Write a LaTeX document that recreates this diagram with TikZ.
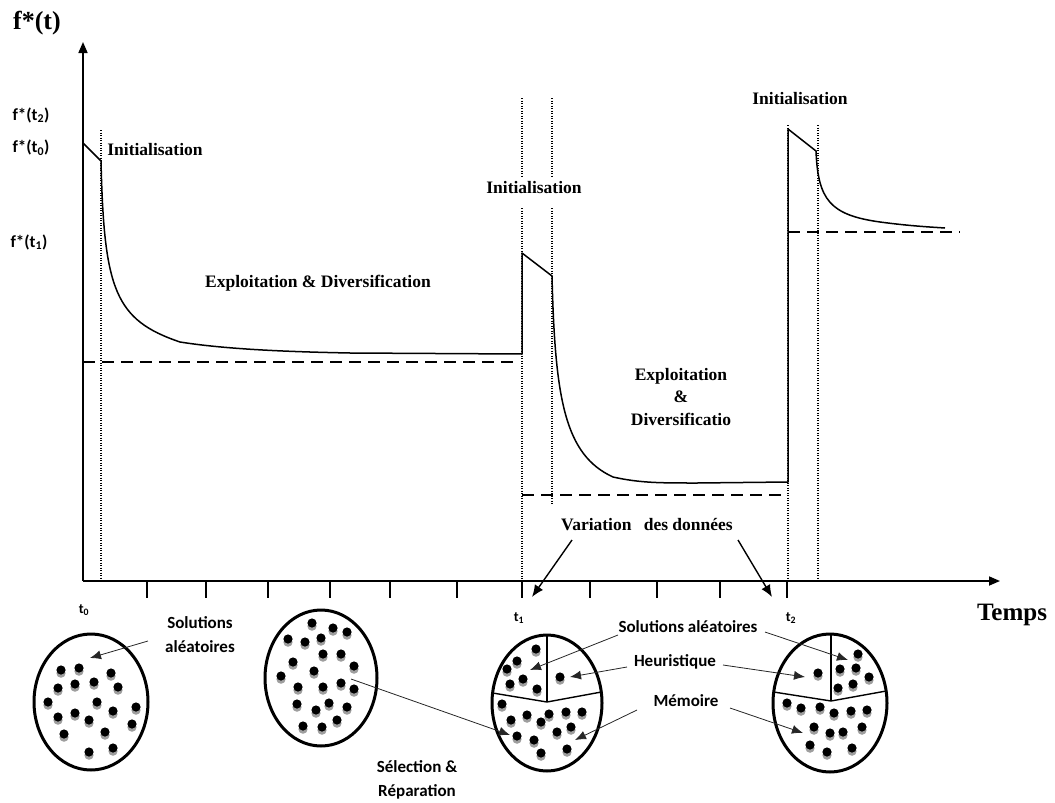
\documentclass[tikz,border=0pt]{standalone}
\usepackage{fontspec}
\setmainfont{Liberation Serif}
\newfontfamily\calib{Carlito}
\usetikzlibrary{arrows.meta}
\tikzset{
  pdot/.pic={\fill[black!38] (0,3.2) circle[radius=4.6pt]; \fill[black] (0,0) circle[radius=4.6pt];},
  serifl/.style={font=\fontsize{17.5}{21}\selectfont\bfseries, inner sep=0pt},
  bigserif/.style={font=\fontsize{26}{30}\selectfont\bfseries, inner sep=0pt},
  sansl/.style={font=\calib\fontsize{17}{24}\selectfont\bfseries, inner sep=0pt, align=center},
  smalll/.style={font=\calib\fontsize{17}{20}\selectfont\bfseries, inner sep=0pt},
  tlab/.style={font=\calib\fontsize{14}{16}\selectfont\bfseries, inner sep=0pt},
  curve/.style={line width=1.5pt, line join=round},
  dotl/.style={line width=1.1pt, dash pattern=on 0.9pt off 1.6pt},
  dashline/.style={line width=2pt, dash pattern=on 12pt off 7pt},
  axisl/.style={line width=1.7pt, -{Triangle[length=11pt,width=9pt]}},
  tickl/.style={line width=1.2pt},
  ptr/.style={-{Latex[length=11pt,width=9pt]}, line width=0.8pt, draw=black!85},
  bigptr/.style={-{Latex[length=12pt,width=10pt]}, line width=1.4pt},
  popl/.style={line width=3pt},
  partl/.style={line width=1.4pt}
}
\begin{document}
\begin{tikzpicture}[x=1pt,y=-1pt]
\useasboundingbox (0,0) rectangle (1055,803);

% axes
\coordinate (O) at (83,581);
\coordinate (ytip) at (83,42);
\coordinate (xtip) at (1000,581);
\draw[axisl] (O) -- (ytip);
\draw[axisl] (O) -- (xtip);
\foreach \x in {147,206,268,330,390,457,522,590,657,720,787}
  \draw[tickl] (\x,581) -- (\x,598);

% dotted guide lines
\draw[dotl] (101,130) -- (101,580);
\draw[dotl] (522,98) -- (522,176);
\draw[dotl] (522,208) -- (522,580);
\draw[dotl] (552,98) -- (552,176);
\draw[dotl] (552,208) -- (552,505);
\draw[dotl] (788,125) -- (788,580);
\draw[dotl] (818,125) -- (818,580);

% dashed levels
\draw[dashline] (83,362) -- (520,362);
\draw[dashline] (522,495) -- (785,495);
\draw[dashline] (788,232) -- (960,232);

% curve f*(t)
\draw[curve] (83,143) -- (101,161)
  .. controls (104,290) and (115,320) .. (180,342)
  .. controls (230,350) and (300,352) .. (350,353)
  -- (522,354) -- (522,253) -- (552,276)
  .. controls (555,400) and (565,455) .. (613,477)
  .. controls (640,483) and (660,483) .. (697,483)
  -- (788,482) -- (788,129) -- (816,151)
  .. controls (818,200) and (830,215) .. (880,222)
  .. controls (910,226) and (930,227) .. (945,228);

% axis labels
\node[bigserif] (ft) at (37,23) {f*(t)};
\node[bigserif, font=\fontsize{25}{30}\selectfont\bfseries] (temps) at (1012,615) {Temps};
\node[smalll] (ft2) at (31,115) {f*(t\textsubscript{2})};
\node[smalll] (ft0) at (31,148) {f*(t\textsubscript{0})};
\node[smalll] (ft1) at (29,242) {f*(t\textsubscript{1})};
\node[tlab] (t0) at (84,610) {t\textsubscript{0}};
\node[tlab] (t1) at (519,618) {t\textsubscript{1}};
\node[tlab] (t2) at (791,618) {t\textsubscript{2}};

% phase labels
\node[serifl] (init1) at (155,150) {Initialisation};
\node[serifl] (expl1) at (318,283) {Exploitation \& Diversification};
\node[serifl] (init2) at (534,188) {Initialisation};
\node[serifl] (init3) at (800,99) {Initialisation};
\node[serifl, align=center, font=\fontsize{17.5}{22.5}\selectfont\bfseries] (expl2) at (681,397) {Exploitation\\\&\\Diversificatio};
\node[serifl] (var) at (647,525) {Variation\hspace{0.45em} des données};

\coordinate (v1s) at (572,540);
\coordinate (v1e) at (532,597);
\coordinate (v2s) at (738,540);
\coordinate (v2e) at (772,597);
\draw[bigptr] (v1s) -- (v1e);
\draw[bigptr] (v2s) -- (v2e);

% populations
\draw[popl] (91,702) ellipse[x radius=57, y radius=68];
\draw[popl] (321,678) ellipse[x radius=56, y radius=68];
\draw[popl] (547,703) ellipse[x radius=55, y radius=68];
\draw[popl] (830,703) ellipse[x radius=57, y radius=69];

\draw[partl] (547,635) -- (547,702);
\draw[partl] (492.6,693) -- (547,702) -- (601.4,692);
\draw[partl] (831,634) -- (831,701);
\draw[partl] (773.7,692) -- (831,701) -- (886.2,691);

\foreach \x/\y in {61/670,79/668,111/673,58/688,75/684,94/682,118/687,48/702,97/702,136/707,58/717,75/713,89/720,113/711,132/724,64/734,105/732,89/752,113/748}
  \pic at (\x,\y) {pdot};
\foreach \x/\y in {312/623,333/628,347/632,288/639,305/642,321/638,323/654,341/654,293/662,354/666,281/676,314/671,298/687,323/687,341/683,354/689,297/704,329/703,316/710,347/707,303/726,322/727,337/720}
  \pic at (\x,\y) {pdot};
\foreach \x/\y in {536/649,517/661,507/669,523/679,510/684,537/689,560/677,502/704,511/720,527/715,549/714,541/722,566/712,582/712,571/727,557/732,517/736,534/740,541/753,567/749}
  \pic at (\x,\y) {pdot};
\foreach \x/\y in {858/654,840/669,856/668,869/677,838/688,853/684,818/673,787/703,801/708,820/707,834/713,851/711,867/710,814/727,830/733,843/732,862/727,810/745,827/752,852/748}
  \pic at (\x,\y) {pdot};

% population labels
\node[sansl] (sol1) at (200,635) {Solutions\\aléatoires};
\node[sansl] (sel) at (417,780) {Sélection \&\\Réparation};
\node[sansl] (sol2) at (688,627) {Solutions aléatoires};
\node[sansl] (heur) at (675,662) {Heuristique};
\node[sansl] (mem) at (686,701) {Mémoire};

\coordinate (a1s) at (148,641);  \coordinate (a1e) at (90,658);
\coordinate (a2s) at (351,679);  \coordinate (a2e) at (510,735);
\coordinate (a3s) at (618,635);  \coordinate (a3e) at (530,670);
\coordinate (a4s) at (765,632);  \coordinate (a4e) at (848,660);
\coordinate (a5s) at (627,667);  \coordinate (a5e) at (570,677);
\coordinate (a6s) at (723,665);  \coordinate (a6e) at (805,677);
\coordinate (a7s) at (637,710);  \coordinate (a7e) at (575,740);
\coordinate (a8s) at (730,708);  \coordinate (a8e) at (803,733);
\draw[ptr] (a1s) -- (a1e);
\draw[ptr] (a2s) -- (a2e);
\draw[ptr] (a3s) -- (a3e);
\draw[ptr] (a4s) -- (a4e);
\draw[ptr] (a5s) -- (a5e);
\draw[ptr] (a6s) -- (a6e);
\draw[ptr] (a7s) -- (a7e);
\draw[ptr] (a8s) -- (a8e);
\end{tikzpicture}
\end{document}
